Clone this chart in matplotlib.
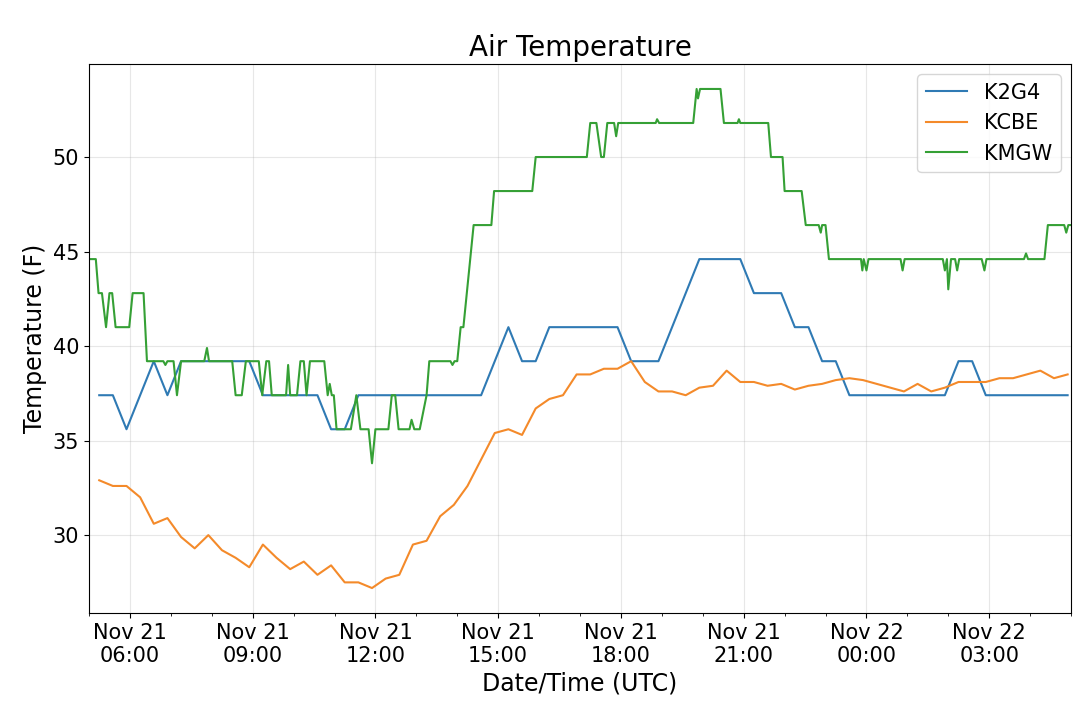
import numpy as np
import matplotlib
matplotlib.use('Agg')
import matplotlib.pyplot as plt
import matplotlib.dates as mdates

# 20-minute obs, 05:15 Nov 21 -> 04:55 Nov 22
obs_minutes = list(range(15, 1440, 20))

k2g4 = [37.4, 37.4, 35.6, 37.4, 39.2, 37.4, 39.2, 39.2, 39.2, 39.2, 39.2, 39.2,
        37.4, 37.4, 37.4, 37.4, 37.4, 35.6, 35.6, 37.4,
        37.4, 37.4, 37.4, 37.4, 37.4, 37.4, 37.4, 37.4, 37.4,
        39.2, 41.0, 39.2, 39.2, 41.0,
        41.0, 41.0, 41.0, 41.0, 41.0,
        39.2, 39.2, 39.2, 41.0, 42.8, 44.6, 44.6, 44.6, 44.6,
        42.8, 42.8, 42.8, 41.0, 41.0, 39.2, 39.2, 37.4,
        37.4, 37.4, 37.4, 37.4, 37.4, 37.4, 37.4,
        39.2, 39.2, 37.4,
        37.4, 37.4, 37.4, 37.4, 37.4, 37.4]

kcbe = [32.9, 32.6, 32.6, 32.0, 30.6, 30.9, 29.9, 29.3, 30.0, 29.2, 28.8, 28.3,
        29.5, 28.8, 28.2, 28.6, 27.9, 28.4, 27.5, 27.5, 27.2, 27.7, 27.9, 29.5,
        29.7, 31.0, 31.6, 32.6, 34.0, 35.4, 35.6, 35.3, 36.7, 37.2, 37.4, 38.5,
        38.5, 38.8, 38.8, 39.2, 38.1, 37.6, 37.6, 37.4, 37.8, 37.9, 38.7, 38.1,
        38.1, 37.9, 38.0, 37.7, 37.9, 38.0, 38.2, 38.3, 38.2, 38.0, 37.8, 37.6,
        38.0, 37.6, 37.8, 38.1, 38.1, 38.1, 38.3, 38.3, 38.5, 38.7, 38.3, 38.5]

# KMGW: minutes after 05:00 Nov 21 where the trace changes, and temps there
kmgw_minutes = [0, 10, 14, 19, 25, 30, 34, 39, 59, 64, 80, 85, 109, 112, 115, 124,
                129, 135, 169, 173, 176, 210, 215, 224, 230, 249, 254, 260, 264, 268,
                289, 292, 295, 305, 310, 315, 319, 324, 345, 350, 353, 356, 359, 363,
                384, 392, 398, 410, 415, 420, 439, 444, 449, 454, 470, 473, 477, 485,
                495, 499, 530, 533, 536, 540, 545, 549, 564, 590, 594, 650, 655, 730,
                735, 744, 751, 755, 760, 770, 773, 776, 831, 833, 836, 886, 891, 893,
                896, 926, 931, 951, 953, 955, 996, 1000, 1017, 1020, 1045, 1051, 1070,
                1073, 1075, 1080, 1085, 1132, 1134, 1136, 1140, 1143, 1190, 1193, 1196,
                1252, 1255, 1258, 1260, 1264, 1270, 1273, 1276, 1309, 1313, 1316, 1371,
                1374, 1377, 1401, 1406, 1430, 1433, 1436, 1440]
kmgw = [44.6, 44.6, 42.8, 42.8, 41.0, 42.8, 42.8, 41.0, 41.0, 42.8, 42.8, 39.2, 39.2, 39.0, 39.2, 39.2,
        37.4, 39.2, 39.2, 39.9, 39.2, 39.2, 37.4, 37.4, 39.2, 39.2, 37.4, 39.2, 39.2, 37.4,
        37.4, 39.0, 37.4, 37.4, 39.2, 39.2, 37.4, 39.2, 39.2, 37.4, 38.0, 37.4, 37.4, 35.6,
        35.6, 37.4, 35.6, 35.6, 33.8, 35.6, 35.6, 37.4, 37.4, 35.6, 35.6, 36.1, 35.6, 35.6,
        37.4, 39.2, 39.2, 39.0, 39.2, 39.2, 41.0, 41.0, 46.4, 46.4, 48.2, 48.2, 50.0, 50.0,
        51.8, 51.8, 50.0, 50.0, 51.8, 51.8, 51.1, 51.8, 51.8, 52.0, 51.8, 51.8, 53.6, 53.1,
        53.6, 53.6, 51.8, 51.8, 52.0, 51.8, 51.8, 50.0, 50.0, 48.2, 48.2, 46.4, 46.4,
        46.0, 46.4, 46.4, 44.6, 44.6, 44.0, 44.6, 44.0, 44.6, 44.6, 44.0, 44.6,
        44.6, 44.0, 44.6, 43.0, 44.6, 44.6, 44.0, 44.6, 44.6, 44.0, 44.6, 44.6,
        44.9, 44.6, 44.6, 46.4, 46.4, 46.0, 46.4, 46.4]

start = np.datetime64('2019-11-21T05:00')
obs_times = start + np.array(obs_minutes, dtype='timedelta64[m]')
kmgw_times = start + np.array(kmgw_minutes, dtype='timedelta64[m]')

fig = plt.figure(figsize=(10.8, 7.05), dpi=100)
ax = fig.add_axes([0.0824, 0.1305, 0.9093, 0.7787])

ax.plot(obs_times, k2g4, color='#2f7ab4', lw=1.5, label='K2G4')
ax.plot(obs_times, kcbe, color='#f48a2a', lw=1.5, label='KCBE')
ax.plot(kmgw_times, kmgw, color='#35a035', lw=1.5, label='KMGW')

ax.margins(x=0)
ax.xaxis.set_major_locator(mdates.HourLocator(byhour=range(0, 24, 3)))
ax.xaxis.set_minor_locator(mdates.HourLocator())
ax.xaxis.set_major_formatter(mdates.DateFormatter('%b %d\n%H:%M'))
ax.set_yticks([30, 35, 40, 45, 50])
ax.tick_params(labelsize=15)
ax.grid(True, color='#b0b0b0', alpha=0.3)

ax.set_title('Air Temperature', fontsize=20)
ax.set_xlabel('Date/Time (UTC)', fontsize=17)
ax.set_ylabel('Temperature (F)', fontsize=17)
ax.legend(loc='upper right', fontsize=15)

plt.savefig('out.png', dpi=100)
